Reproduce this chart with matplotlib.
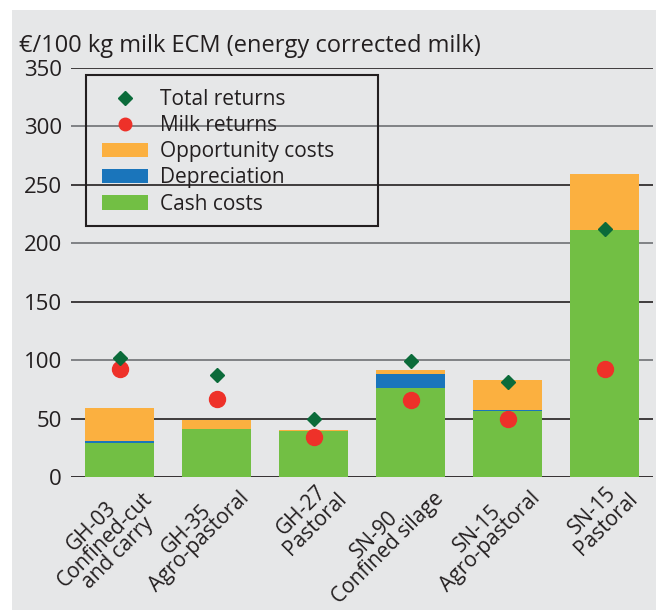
import matplotlib.pyplot as plt
from matplotlib.patches import Rectangle, Patch
from matplotlib.lines import Line2D

plt.rcParams['font.family'] = ['Open Sans', 'DejaVu Sans']

# Values (EUR per 100 kg ECM)
farms = ['GH-03\nConfined-cut\nand carry', 'GH-35\nAgro-pastoral', 'GH-27\nPastoral',
         'SN-90\nConfined silage', 'SN-15\nAgro-pastoral', 'SN-15\nPastoral']
cash_costs = [29, 41, 39, 76, 56.5, 211]
depreciation = [1.5, 0, 0, 12, 1, 0.5]
opportunity_costs = [28.5, 8, 0.8, 3.5, 25.5, 47.5]
total_returns = [102, 87, 50, 99, 81, 212]
milk_returns = [92, 67, 34, 66, 50, 92]
yticks = [0, 50, 100, 150, 200, 250, 300, 350]

c_green = '#72bf44'
c_blue = '#1a75bb'
c_orange = '#fbb040'
c_diamond = '#0b6b3a'
c_red = '#ee3129'
c_text = '#231f20'
bg = '#e6e7e8'
fs = 15

fig = plt.figure(figsize=(6.56, 6.11), dpi=100)
fig.patches.append(Rectangle((12 / 656, 1 / 611), 1, 600 / 611, transform=fig.transFigure,
                             facecolor=bg, edgecolor='none', zorder=-10))
ax = fig.add_axes([71 / 656, 134 / 611, 582 / 656, 409 / 611])
ax.set_facecolor('none')

x = range(len(farms))
w = 0.72
ax.bar(x, cash_costs, w, color=c_green, zorder=3)
bottom2 = [c + d for c, d in zip(cash_costs, depreciation)]
ax.bar(x, depreciation, w, bottom=cash_costs, color=c_blue, zorder=3)
ax.bar(x, opportunity_costs, w, bottom=bottom2, color=c_orange, zorder=3)
ax.plot(x, total_returns, 'D', color=c_diamond, markersize=7.6, zorder=5, linestyle='none')
ax.plot(x, milk_returns, 'o', color=c_red, markersize=11.5, zorder=4, linestyle='none')

# gridlines
for v in yticks:
    if v == 0:
        ax.axhline(v, color=c_text, lw=2, zorder=2)
    elif v % 100 == 0:
        ax.axhline(v, color='#808285', lw=1.4, zorder=1)
    else:
        ax.axhline(v, color=c_text, lw=1.2, zorder=1)

ax.set_ylim(0, 350)
ax.set_xlim(-0.5, 5.5)
ax.set_yticks(yticks)
ax.set_yticklabels([str(v) for v in yticks], fontsize=16, color=c_text)
ax.tick_params(axis='y', length=0, pad=6.5)
ax.tick_params(axis='x', length=0)
ax.set_xticks(list(x))
ax.set_xticklabels([])
for s in ax.spines.values():
    s.set_visible(False)

for i, lab in enumerate(farms):
    ax.annotate(lab, xy=(i, 0), xycoords='data', xytext=(6.5, 1.5), textcoords='offset points',
                rotation=45, ha='right', va='top', rotation_mode='anchor',
                multialignment='center', fontsize=fs, color=c_text, linespacing=0.86)

fig.text(19 / 656, 1 - 52 / 611, '€/100 kg milk ECM (energy corrected milk)',
         fontsize=17, color=c_text, va='baseline', ha='left')

# legend: frame drawn separately to get the wide box of the original
ax.add_patch(Rectangle((0.0258, 0.614), 0.5017, 0.369, transform=ax.transAxes,
                       facecolor='none', edgecolor=c_text, lw=1.5, zorder=10))
handles = [Line2D([], [], marker='D', color=c_diamond, linestyle='none', markersize=7.6),
           Line2D([], [], marker='o', color=c_red, linestyle='none', markersize=9),
           Patch(facecolor=c_orange), Patch(facecolor=c_blue), Patch(facecolor=c_green)]
labels = ['Total returns', 'Milk returns', 'Opportunity costs', 'Depreciation', 'Cash costs']
leg = ax.legend(handles, labels, loc='upper left', bbox_to_anchor=(0.053, 0.949),
                borderaxespad=0, fontsize=fs, frameon=False,
                handlelength=2.2, handleheight=0.7, handletextpad=0.6, labelspacing=0.25,
                borderpad=0, labelcolor=c_text)
leg.set_zorder(10)

fig.savefig('out.png', dpi=100, facecolor='white')
